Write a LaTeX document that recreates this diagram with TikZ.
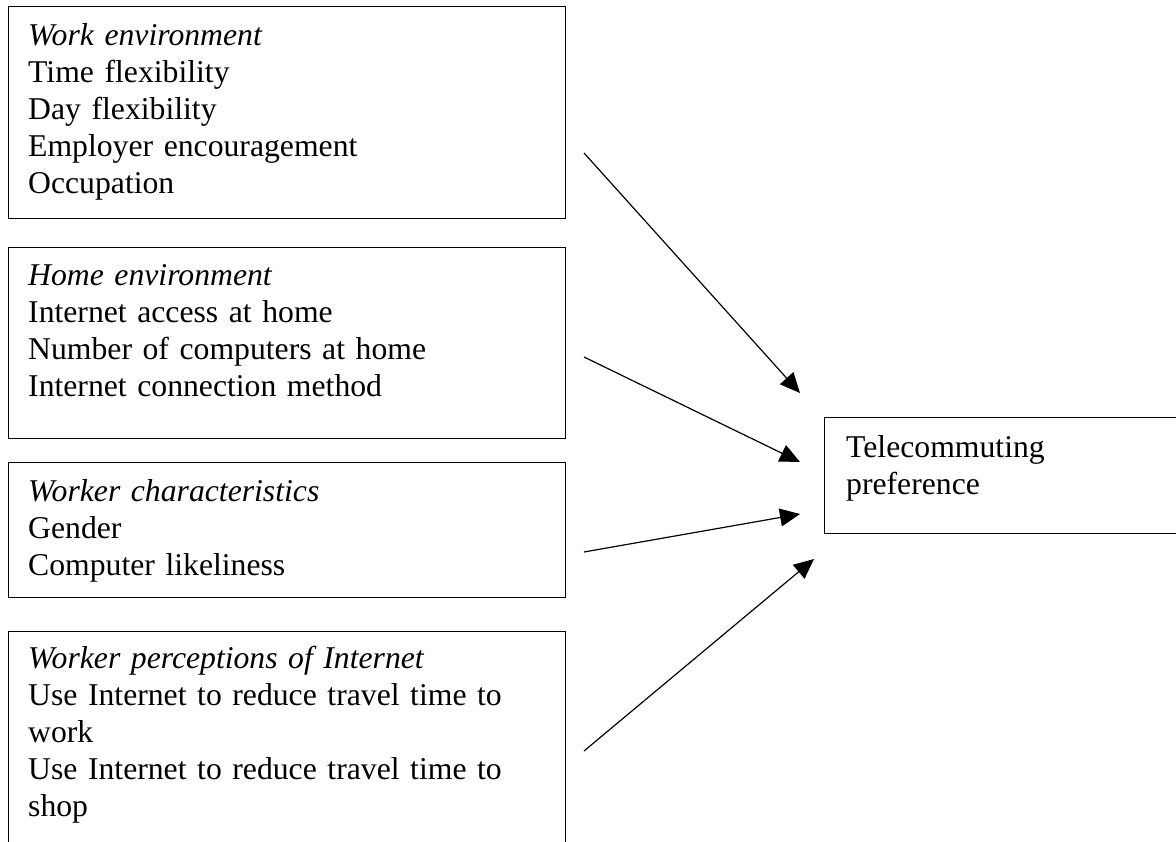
\documentclass[tikz,border=0pt]{standalone}
\usepackage{fontspec}
\setmainfont{Liberation Serif}
\usetikzlibrary{arrows.meta}
\begin{document}
\begin{tikzpicture}[x=1pt,y=-1pt,
  boxst/.style={draw, line width=1.3pt, anchor=north west, inner sep=0pt, minimum width=557pt},
  txt/.style={anchor=north west, inner sep=0pt, align=left, text width=530pt,
    font=\fontsize{31.7pt}{37pt}\selectfont},
  arr/.style={line width=1.2pt, -{Triangle[length=20pt,width=18pt]}}]
\useasboundingbox (0,0) rectangle (1176,842);
\begin{scope}
\clip (0,0) rectangle (1176,842);
% boxes
\node[boxst, minimum height=212pt] (work) at (8,6) {};
\node[boxst, minimum height=191pt] (home) at (8,247) {};
\node[boxst, minimum height=135pt] (worker) at (8,462) {};
\node[boxst, minimum height=260pt] (percep) at (8,631) {};
\node[boxst, minimum width=420pt, minimum height=116pt] (tele) at (824,417) {};
% texts
\node[txt] (worktxt) at ([xshift=20pt]work.north west)
  {\rule{0pt}{39pt}\textit{Work environment}\\Time flexibility\\Day flexibility\\Employer encouragement\\Occupation};
\node[txt] (hometxt) at ([xshift=20pt]home.north west)
  {\rule{0pt}{38pt}\textit{Home environment}\\Internet access at home\\Number of computers at home\\Internet connection method};
\node[txt] (workertxt) at ([xshift=20pt]worker.north west)
  {\rule{0pt}{39pt}\textit{Worker characteristics}\\Gender\\Computer likeliness};
\node[txt] (perceptxt) at ([xshift=20pt]percep.north west)
  {\rule{0pt}{37pt}\textit{Worker perceptions of Internet}\\Use Internet to reduce travel time to\\work\\Use Internet to reduce travel time to\\shop};
\node[txt, text width=340pt] (teletxt) at ([xshift=22pt]tele.north west)
  {\rule{0pt}{40pt}Telecommuting\\preference};
% arrow end points
\coordinate (a1s) at (584,153);
\coordinate (a1e) at (800,393);
\coordinate (a2s) at (584,357);
\coordinate (a2e) at (800,462);
\coordinate (a3s) at (584,552);
\coordinate (a3e) at (800,514);
\coordinate (a4s) at (584,751);
\coordinate (a4e) at (814,559);
\draw[arr] (a1s) -- (a1e);
\draw[arr] (a2s) -- (a2e);
\draw[arr] (a3s) -- (a3e);
\draw[arr] (a4s) -- (a4e);
\end{scope}
\end{tikzpicture}
\end{document}
